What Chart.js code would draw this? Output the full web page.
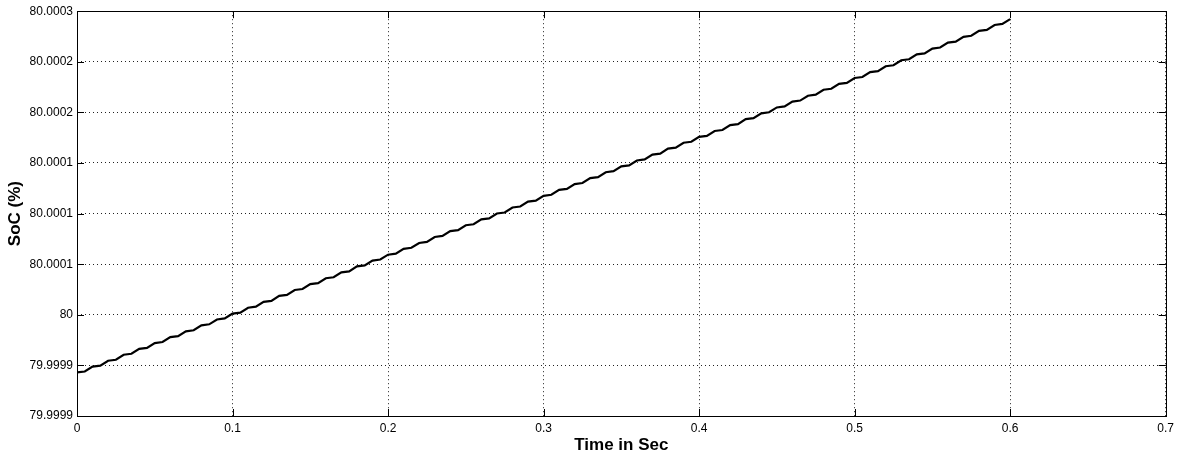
<!DOCTYPE html>
<html>
<head>
<meta charset="utf-8">
<script src="https://cdn.jsdelivr.net/npm/chart.js@4.4.1/dist/chart.umd.min.js"></script>
<style>
  html, body { margin: 0; padding: 0; background: #fff; }
  #wrap { width: 1179px; height: 456px; }
</style>
</head>
<body>
<div id="wrap"><canvas id="socChart" width="1179" height="456"></canvas></div>
<script>
// sample times (s)
var timeSec = [
  0.000, 0.005, 0.010, 0.015, 0.020, 0.025, 0.030, 0.035, 0.040, 0.045,
  0.050, 0.055, 0.060, 0.065, 0.070, 0.075, 0.080, 0.085, 0.090, 0.095,
  0.100, 0.105, 0.110, 0.115, 0.120, 0.125, 0.130, 0.135, 0.140, 0.145,
  0.150, 0.155, 0.160, 0.165, 0.170, 0.175, 0.180, 0.185, 0.190, 0.195,
  0.200, 0.205, 0.210, 0.215, 0.220, 0.225, 0.230, 0.235, 0.240, 0.245,
  0.250, 0.255, 0.260, 0.265, 0.270, 0.275, 0.280, 0.285, 0.290, 0.295,
  0.300, 0.305, 0.310, 0.315, 0.320, 0.325, 0.330, 0.335, 0.340, 0.345,
  0.350, 0.355, 0.360, 0.365, 0.370, 0.375, 0.380, 0.385, 0.390, 0.395,
  0.400, 0.405, 0.410, 0.415, 0.420, 0.425, 0.430, 0.435, 0.440, 0.445,
  0.450, 0.455, 0.460, 0.465, 0.470, 0.475, 0.480, 0.485, 0.490, 0.495,
  0.500, 0.505, 0.510, 0.515, 0.520, 0.525, 0.530, 0.535, 0.540, 0.545,
  0.550, 0.555, 0.560, 0.565, 0.570, 0.575, 0.580, 0.585, 0.590, 0.595,
  0.600
];

// state of charge (%)
var socValues = [
  79.9999430, 79.9999440, 79.9999488, 79.9999498, 79.9999546, 79.9999556, 79.9999605, 79.9999615, 79.9999663, 79.9999673,
  79.9999721, 79.9999731, 79.9999779, 79.9999789, 79.9999837, 79.9999847, 79.9999896, 79.9999906, 79.9999954, 79.9999964,
  80.0000012, 80.0000022, 80.0000070, 80.0000080, 80.0000128, 80.0000138, 80.0000187, 80.0000197, 80.0000245, 80.0000255,
  80.0000303, 80.0000313, 80.0000361, 80.0000371, 80.0000419, 80.0000429, 80.0000478, 80.0000488, 80.0000536, 80.0000546,
  80.0000594, 80.0000604, 80.0000652, 80.0000662, 80.0000710, 80.0000720, 80.0000769, 80.0000779, 80.0000827, 80.0000837,
  80.0000885, 80.0000895, 80.0000943, 80.0000953, 80.0001001, 80.0001011, 80.0001060, 80.0001070, 80.0001118, 80.0001128,
  80.0001176, 80.0001186, 80.0001234, 80.0001244, 80.0001292, 80.0001302, 80.0001351, 80.0001361, 80.0001409, 80.0001419,
  80.0001467, 80.0001477, 80.0001525, 80.0001535, 80.0001583, 80.0001593, 80.0001642, 80.0001652, 80.0001700, 80.0001710,
  80.0001758, 80.0001768, 80.0001816, 80.0001826, 80.0001874, 80.0001884, 80.0001933, 80.0001943, 80.0001991, 80.0002001,
  80.0002049, 80.0002059, 80.0002107, 80.0002117, 80.0002165, 80.0002175, 80.0002224, 80.0002234, 80.0002282, 80.0002292,
  80.0002340, 80.0002350, 80.0002398, 80.0002408, 80.0002456, 80.0002466, 80.0002515, 80.0002525, 80.0002573, 80.0002583,
  80.0002631, 80.0002641, 80.0002689, 80.0002699, 80.0002747, 80.0002757, 80.0002806, 80.0002816, 80.0002864, 80.0002874,
  80.0002922
];

var xTickValues = [0, 0.1, 0.2, 0.3, 0.4, 0.5, 0.6, 0.7];
var xTickLabels = ['0', '0.1', '0.2', '0.3', '0.4', '0.5', '0.6', '0.7'];
var yTickValues = [79.9999, 79.99995, 80, 80.00005, 80.0001, 80.00015, 80.0002, 80.00025, 80.0003];
var yTickLabels = ['79.9999', '79.9999', '80', '80.0001', '80.0001', '80.0001', '80.0002', '80.0002', '80.0003'];

var points = [];
timeSec.forEach(function (t, i) {
    points.push({ x: t, y: socValues[i] });
});

// box + inward tick marks, matlab style
var frameTicks = {
    id: 'frameTicks',
    afterDraw: function (chart) {
        var c = chart.ctx, a = chart.chartArea;
        var xs = chart.scales.x, ys = chart.scales.y;
        var len = 7;
        c.save();
        c.strokeStyle = '#000';
        c.lineWidth = 1;
        c.beginPath();
        xTickValues.forEach(function (v) {
            var px = Math.round(xs.getPixelForValue(v)) + 0.5;
            c.moveTo(px, a.bottom); c.lineTo(px, a.bottom - len);
            c.moveTo(px, a.top); c.lineTo(px, a.top + len);
        });
        yTickValues.forEach(function (v) {
            var py = Math.round(ys.getPixelForValue(v)) + 0.5;
            c.moveTo(a.left, py); c.lineTo(a.left + len, py);
            c.moveTo(a.right, py); c.lineTo(a.right - len, py);
        });
        c.stroke();
        c.strokeRect(Math.round(a.left) + 0.5, Math.round(a.top) + 0.5,
            Math.round(a.right - a.left), Math.round(a.bottom - a.top));
        c.restore();
    }
};

var ctx = document.getElementById('socChart').getContext('2d');
var socChart = new Chart(ctx, {
    type: 'line',
    data: {
        datasets: [{
            label: 'SoC',
            data: points,
            borderColor: '#000',
            borderWidth: 2.2,
            pointRadius: 0,
            tension: 0,
            fill: false
        }]
    },
    options: {
        responsive: false,
        animation: false,
        devicePixelRatio: 1,
        layout: { padding: { top: 10, right: 13, left: 0, bottom: 0 } },
        plugins: {
            legend: { display: false },
            tooltip: { enabled: false }
        },
        scales: {
            x: {
                type: 'linear',
                min: 0,
                max: 0.7,
                afterBuildTicks: function (scale) {
                    scale.ticks = xTickValues.map(function (v) { return { value: v }; });
                },
                afterFit: function (scale) { scale.height = 40; },
                ticks: {
                    color: '#000',
                    font: { family: 'Liberation Sans, Arial', size: 12 },
                    padding: 5,
                    maxRotation: 0,
                    callback: function (v, i) { return xTickLabels[i]; }
                },
                grid: {
                    color: '#222',
                    lineWidth: 1,
                    tickLength: 0,
                    drawTicks: false
                },
                border: { display: false, dash: [1, 3] },
                title: {
                    display: true,
                    text: 'Time in Sec',
                    color: '#000',
                    font: { family: 'Liberation Sans, Arial', size: 17, weight: 'bold' },
                    padding: { top: 0, bottom: 0 }
                }
            },
            y: {
                type: 'linear',
                min: 79.9999,
                max: 80.0003,
                afterBuildTicks: function (scale) {
                    scale.ticks = yTickValues.map(function (v) { return { value: v }; });
                },
                afterFit: function (scale) { scale.width = 77; },
                ticks: {
                    color: '#000',
                    font: { family: 'Liberation Sans, Arial', size: 12 },
                    padding: 4,
                    callback: function (v, i) { return yTickLabels[i]; }
                },
                grid: {
                    color: '#222',
                    lineWidth: 1,
                    tickLength: 0,
                    drawTicks: false
                },
                border: { display: false, dash: [1, 3] },
                title: {
                    display: true,
                    text: 'SoC (%)',
                    color: '#000',
                    font: { family: 'Liberation Sans, Arial', size: 17, weight: 'bold' },
                    padding: { top: 5, bottom: 0 }
                }
            }
        }
    },
    plugins: [frameTicks]
});
</script>
</body>
</html>
